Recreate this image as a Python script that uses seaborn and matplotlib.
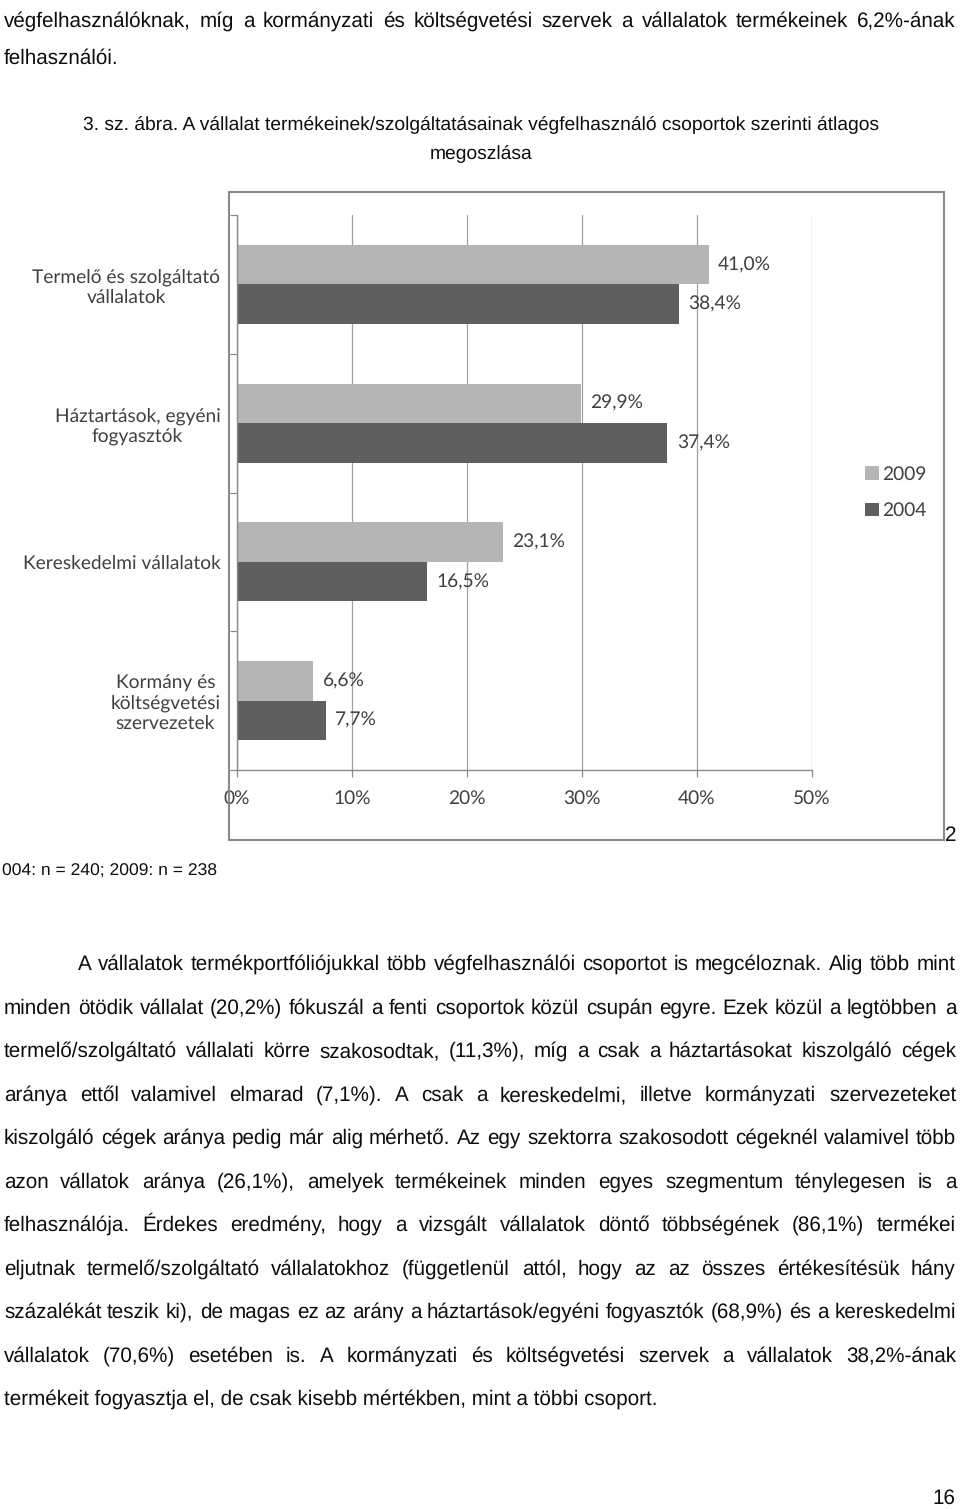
import numpy as np
import pandas as pd
import matplotlib
matplotlib.use("Agg")
import matplotlib.pyplot as plt
from matplotlib.font_manager import FontProperties
from matplotlib.patches import Rectangle, Patch
import seaborn as sns

# chart data
categories = ["Termelő és szolgáltató\nvállalatok",
              "Háztartások, egyéni\nfogyasztók",
              "Kereskedelmi vállalatok",
              "Kormány és\nköltségvetési\nszervezetek"]
years = ["2009", "2004"]
share_2009 = [41.0, 29.9, 23.1, 6.6]
share_2004 = [38.4, 37.4, 16.5, 7.7]
x_ticks = [0, 10, 20, 30, 40, 50]

# page text
top_lines = ["végfelhasználóknak, míg a kormányzati és költségvetési szervek a vállalatok termékeinek 6,2%-ának",
             "felhasználói."]
caption_lines = ["3. sz. ábra. A vállalat termékeinek/szolgáltatásainak végfelhasználó csoportok szerinti átlagos",
                 "megoszlása"]
note = "004: n = 240; 2009: n = 238"
body_lines = [
    "A vállalatok termékportfóliójukkal több végfelhasználói csoportot is megcéloznak. Alig több mint",
    "minden ötödik vállalat (20,2%) fókuszál a fenti csoportok közül csupán egyre. Ezek közül a legtöbben a",
    "termelő/szolgáltató vállalati körre szakosodtak, (11,3%), míg a csak a háztartásokat kiszolgáló cégek",
    "aránya ettől valamivel elmarad (7,1%). A csak a kereskedelmi, illetve kormányzati szervezeteket",
    "kiszolgáló cégek aránya pedig már alig mérhető. Az egy szektorra szakosodott cégeknél valamivel több",
    "azon vállatok aránya (26,1%), amelyek termékeinek minden egyes szegmentum ténylegesen is a",
    "felhasználója. Érdekes eredmény, hogy a vizsgált vállalatok döntő többségének (86,1%) termékei",
    "eljutnak termelő/szolgáltató vállalatokhoz (függetlenül attól, hogy az az összes értékesítésük hány",
    "százalékát teszik ki), de magas ez az arány a háztartások/egyéni fogyasztók (68,9%) és a kereskedelmi",
    "vállalatok (70,6%) esetében is. A kormányzati és költségvetési szervek a vállalatok 38,2%-ának",
    "termékeit fogyasztja el, de csak kisebb mértékben, mint a többi csoport.",
]
page_number = "16"

colors = {"2009": "#b5b5b5", "2004": "#5f5f5f"}
BODY = "Liberation Sans"
CHART = ["Lato", "DejaVu Sans"]
INK = "#0d0d0d"
W, H = 960, 1509

sns.set_style("white")
plt.rcParams["text.hinting"] = "no_hinting"
fig = plt.figure(figsize=(9.6, 15.09), dpi=100)
renderer = fig.canvas.get_renderer()


def text_width(s, size, family):
    prop = FontProperties(family=family, size=size)
    w, _, _ = renderer.get_text_width_height_descent(s, prop, ismath=False)
    return w


# font sizes fitted to widths measured on the reference
body_size = 10 * 653 / text_width(body_lines[-1], 10, BODY)
caption_size = 10 * 797 / text_width(caption_lines[0], 10, BODY)
note_size = 10 * 215 / text_width(note, 10, BODY)
chart_size = 10 * 198 / text_width("Kereskedelmi vállalatok", 10, CHART)
body_prop = FontProperties(family=BODY, size=body_size)


def put_line(line, y, x0, x1, justify=True):
    # y is the baseline in pixels from the top
    if not justify:
        fig.text(x0 / W, 1 - y / H, line, fontproperties=body_prop,
                 color=INK, va="baseline")
        return
    words = line.split(" ")
    widths = [text_width(w, body_size, BODY) for w in words]
    gap = (x1 - x0 - sum(widths)) / (len(words) - 1)
    x = x0
    for w, wd in zip(words, widths):
        fig.text(round(x) / W, 1 - y / H, w, fontproperties=body_prop,
                 color=INK, va="baseline")
        x += wd + gap


put_line(top_lines[0], 27, 4, 956)
put_line(top_lines[1], 64, 4, 956, justify=False)
for line, y in zip(caption_lines, [130, 159]):
    fig.text(481 / W, 1 - y / H, line, fontsize=caption_size, family=BODY,
             color=INK, va="baseline", ha="center")

fig.text(2 / W, 1 - 876 / H, note, fontsize=note_size, family=BODY,
         color=INK, va="baseline")

body_y = [970, 1014, 1057, 1101, 1144, 1188, 1231, 1275, 1318, 1362, 1405]
for i, (line, y) in enumerate(zip(body_lines, body_y)):
    x0 = 78 if i == 0 else 4
    put_line(line, y, x0, 956, justify=(i < len(body_lines) - 1))

fig.text(955 / W, 1 - 1504 / H, page_number, fontproperties=body_prop,
         color=INK, va="baseline", ha="right")

# chart frame
fig.patches.append(Rectangle((229 / W, 1 - 840 / H), 715 / W, 648 / H,
                             transform=fig.transFigure, fill=False,
                             edgecolor="#8a8a8a", lw=1.5))
fig.text(945 / W, 1 - 841 / H, "2", fontproperties=body_prop,
         color=INK, va="baseline", ha="left")

# chart
df = pd.DataFrame({
    "category": categories * 2,
    "year": ["2009"] * len(categories) + ["2004"] * len(categories),
    "share": share_2009 + share_2004,
})

ax = fig.add_axes([237 / W, 1 - 770 / H, 575 / W, 555 / H])
sns.barplot(data=df, x="share", y="category", hue="year", hue_order=years,
            palette=colors, orient="h", width=0.57, saturation=1,
            legend=False, ax=ax, linewidth=0)

for cont in ax.containers:
    vals = [b.get_width() for b in cont]
    ax.bar_label(cont, labels=[f"{v:.1f}%".replace(".", ",") for v in vals],
                 padding=7, fontsize=chart_size, family=CHART, color="#404040")

ax.set_xlim(0, 50)
ax.set_ylim(len(categories) - 0.5, -0.5)
ax.set_xticks(x_ticks, labels=[f"{t}%" for t in x_ticks])
ax.set_yticks(range(len(categories)), labels=categories)
ax.set_yticks(np.arange(len(categories) + 1) - 0.5, minor=True)
ax.set_xlabel("")
ax.set_ylabel("")

ax.grid(axis="x", color="#a0a0a0", lw=0.9)
ax.grid(axis="y", visible=False)
ax.set_axisbelow(True)
for side in ["top", "right"]:
    ax.spines[side].set_visible(False)
for side in ["left", "bottom"]:
    ax.spines[side].set_color("#8a8a8a")
    ax.spines[side].set_linewidth(1.0)

ax.tick_params(axis="x", length=5, width=0.9, color="#8a8a8a", pad=9,
               labelsize=chart_size, labelcolor="#404040", bottom=True)
ax.tick_params(axis="y", which="major", length=0, pad=12,
               labelsize=chart_size, labelcolor="#404040")
ax.tick_params(axis="y", which="minor", length=5, width=0.9,
               color="#8a8a8a", left=True)
for lab in ax.get_xticklabels() + ax.get_yticklabels():
    lab.set_family(CHART)
for lab in ax.get_yticklabels():
    lab.set_multialignment("center")

handles = [Patch(facecolor=colors[y], edgecolor="none", label=y) for y in years]
leg = ax.legend(handles=handles, loc="center left", bbox_to_anchor=(1.063, 0.5),
                frameon=False, handlelength=0.7, handleheight=0.7,
                handletextpad=0.15, labelspacing=1.0,
                prop={"family": CHART, "size": chart_size})
for t in leg.get_texts():
    t.set_color("#404040")

fig.savefig("out.png", dpi=100)
